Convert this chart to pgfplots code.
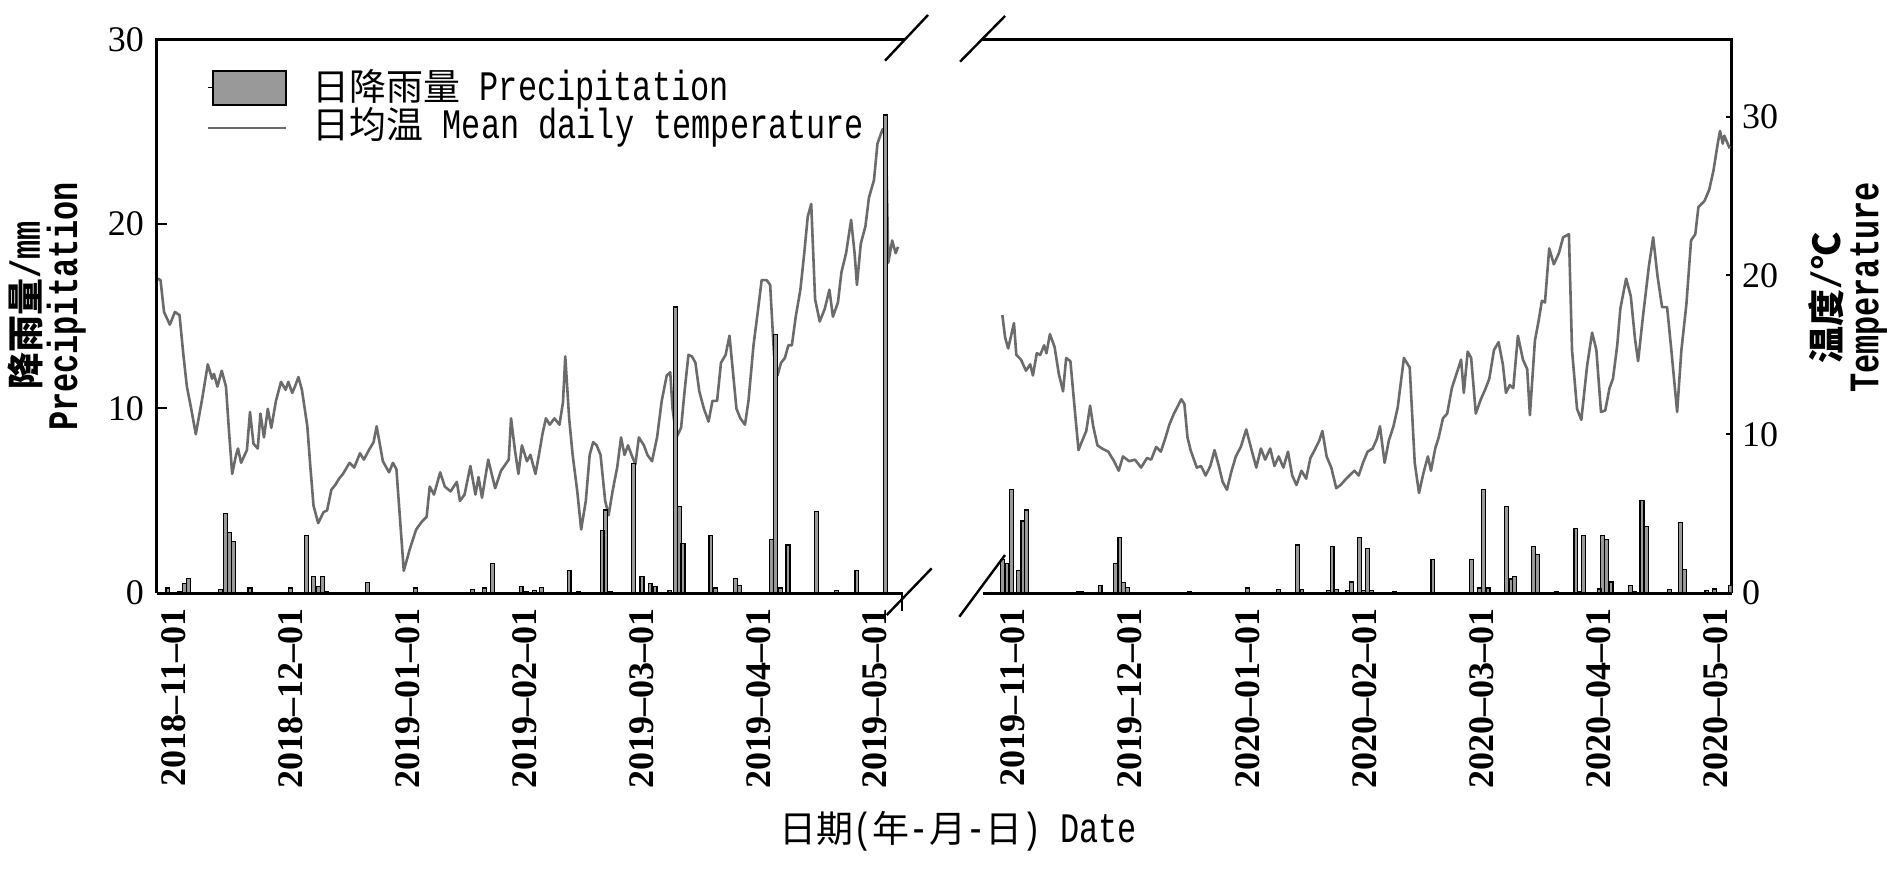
\documentclass[border=0pt]{standalone}
\usepackage{pgfplots}
\usepackage{pgfplotstable}
\pgfplotsset{compat=1.18}
\usepackage{fontspec}
\setmainfont{Liberation Serif}
\newfontfamily\cjk{Noto Sans CJK SC}
\newfontfamily\mono{Liberation Mono}[FakeStretch=0.76]
\newcommand\Cf{\cjk\fontsize{9.25pt}{11pt}\selectfont}
\newcommand\Mf{\mono\fontsize{10.5pt}{11pt}\selectfont}
\newcommand\C[1]{{\Cf #1}}
\newcommand\M[1]{{\Mf #1}}
\newcommand\CB[1]{{\Cf\bfseries #1}}
\newcommand\MB[1]{{\Mf\bfseries #1}}
\newcommand\tickfont{\fontsize{9pt}{10pt}\selectfont}
\newcommand\datefont{\fontsize{9pt}{10pt}\selectfont\bfseries}

% ---------- 2018-2019 season (day 0 = 2018-11-01) ----------
\pgfplotstableread{
x y
-1.6 0.27
1.5 0.1
2.7 0.5
3.7 0.8
12.0 0.2
13.2 4.3
14.3 3.3
15.3 2.8
19.6 0.27
30.0 0.27
34.2 3.1
36.0 0.9
37.3 0.36
38.3 0.9
39.3 0.1
49.9 0.58
62.3 0.27
77.0 0.18
80.2 0.27
82.2 1.6
89.6 0.36
90.9 0.1
93.0 0.13
94.8 0.32
102.0 1.2
104.3 0.1
110.5 3.4
111.4 4.5
112.6 0.1
118.7 7.0
120.8 0.9
122.9 0.5
124.2 0.36
128.0 0.12
129.5 15.5
130.5 4.7
131.4 2.7
138.6 3.1
139.8 0.27
144.9 0.8
146.0 0.4
154.2 2.9
155.3 14.0
156.5 0.27
158.5 2.6
165.8 4.4
171.0 0.12
176.3 1.2
183.7 25.9
}\precipA

\pgfplotstableread{
x y
-4.2 19.8
-3.5 19.7
-2.6 17.7
-1.1 16.9
0.2 17.7
1.4 17.5
2.4 15.0
3.3 13.0
4.5 11.5
5.6 10.0
7.3 12.3
8.7 14.4
9.8 13.5
10.3 13.8
11.2 13.0
12.3 14.0
13.4 13.0
14.2 10.1
15.0 7.5
16.0 8.7
16.5 9.1
17.3 8.2
18.8 9.0
19.6 11.4
20.5 9.4
21.6 9.1
22.3 11.3
23.2 9.8
24.2 11.6
25.1 10.4
26.3 12.1
27.6 13.3
28.8 12.8
29.5 13.3
30.5 12.6
31.2 13.0
32.1 13.6
33.0 12.8
34.4 10.5
35.2 7.9
36.0 5.5
37.2 4.4
38.6 5.1
39.5 5.2
40.6 6.5
41.6 6.8
42.6 7.2
43.6 7.5
45.3 8.2
46.5 7.9
48.0 8.8
49.0 8.4
50.3 9.0
51.5 9.5
52.3 10.5
53.9 8.3
55.5 7.6
56.5 8.2
57.4 7.8
59.3 1.4
60.9 2.8
62.5 4.0
64.0 4.5
65.2 4.8
66.0 6.7
67.1 6.2
68.7 7.6
69.9 6.7
71.4 6.4
73.0 7.0
73.8 5.8
75.0 6.2
76.5 8.0
77.8 6.2
78.6 7.3
79.5 6.0
81.1 8.4
82.9 6.6
84.4 7.7
86.4 8.4
87.0 11.0
88.0 9.0
88.9 7.5
89.8 9.3
91.1 8.3
92.0 8.7
93.3 7.5
94.2 8.7
95.1 10.0
96.0 11.0
97.0 10.6
98.2 11.0
99.5 10.6
100.4 12.0
101.0 14.9
102.0 11.0
102.9 8.7
104.1 6.4
105.1 4.0
106.3 5.8
107.3 8.7
108.2 9.5
109.1 9.3
110.1 8.7
111.3 5.8
112.2 4.9
113.2 6.4
114.4 7.9
115.4 9.8
116.3 8.7
117.2 9.3
118.1 8.7
119.1 8.1
120.0 9.8
121.3 9.3
122.2 8.7
123.4 8.3
124.7 9.8
125.9 12.1
127.2 13.7
128.1 13.9
128.7 11.6
129.7 9.8
130.9 10.4
131.8 12.7
132.8 15.0
133.7 14.9
134.6 14.5
135.6 12.7
136.8 11.6
138.0 10.8
139.0 12.1
140.2 12.1
141.2 14.5
142.4 15.0
143.4 16.2
144.3 13.9
145.2 11.6
146.2 11.0
147.4 10.6
148.3 12.1
149.6 15.6
150.8 17.9
151.7 19.7
153.0 19.7
153.9 19.4
154.9 15.0
155.8 13.7
156.7 14.5
157.7 14.8
158.6 15.6
159.5 15.6
160.5 17.4
161.7 19.1
162.7 21.4
163.6 23.7
164.5 24.5
165.5 18.5
166.7 17.1
168.0 17.9
169.2 19.1
170.1 17.4
171.4 18.3
172.3 20.2
173.5 21.4
174.8 23.5
175.7 21.4
176.3 19.4
177.3 22.0
178.5 23.1
179.4 24.9
180.7 26.0
181.6 28.3
182.9 29.2
183.8 28.7
184.4 20.8
185.4 22.2
186.3 21.4
186.9 21.8
}\tempA

% ---------- 2019-2020 season (day 0 = 2019-11-01) ----------
\pgfplotstableread{
x y
-2.6 1.8
-1.5 1.6
-0.4 5.6
1.5 1.2
2.6 3.9
3.6 4.5
17.1 0.1
17.7 0.1
22.6 0.4
26.6 1.6
27.7 3.0
28.7 0.58
29.6 0.32
45.6 0.1
60.8 0.27
68.7 0.18
73.7 2.6
74.8 0.18
81.7 0.13
82.6 2.5
83.7 0.18
86.7 0.15
87.7 0.6
89.7 3.0
90.8 0.15
91.8 2.4
92.8 0.15
98.7 0.1
108.7 1.8
118.7 1.8
120.8 0.27
121.8 5.6
123.0 0.27
127.8 4.7
128.9 0.76
129.9 0.9
134.7 2.5
135.8 2.1
140.7 0.1
145.7 3.5
146.7 0.1
147.6 3.1
151.7 0.22
152.6 3.1
153.7 2.9
154.8 0.6
159.9 0.4
160.9 0.1
162.8 5.0
163.9 3.6
169.9 0.18
172.7 3.8
173.8 1.26
179.6 0.13
181.6 0.22
185.7 0.4
}\precipB

\pgfplotstableread{
x y
-2.7 17.5
-2.0 16.1
-1.2 15.4
0.3 17.0
0.9 15.0
2.1 14.7
3.4 14.0
4.5 14.4
5.2 13.7
6.2 15.1
7.1 15.0
8.1 15.6
8.7 15.1
9.6 16.3
10.8 15.5
11.9 13.8
13.0 12.7
13.8 14.8
14.9 14.6
16.2 11.1
17.0 9.0
17.8 9.5
19.0 10.2
20.0 11.8
20.8 10.5
21.9 9.3
23.1 9.1
24.7 8.9
26.2 8.3
27.4 7.7
28.5 8.6
30.1 8.3
31.6 8.4
33.2 7.9
34.7 8.5
35.8 8.4
37.1 9.2
38.3 8.9
39.4 9.7
40.5 10.6
41.7 11.3
43.6 12.2
44.4 11.9
45.2 9.8
46.0 9.0
47.6 7.9
48.7 8.0
49.9 7.4
51.1 8.0
52.2 9.0
53.3 8.0
54.3 7.0
55.4 6.5
56.5 7.6
57.7 8.6
59.0 9.2
60.4 10.3
61.9 8.9
63.0 7.9
64.2 9.1
65.3 8.4
66.6 9.1
67.7 8.0
68.8 8.6
70.0 7.9
71.2 8.9
72.3 7.4
73.4 6.8
74.7 7.7
75.9 7.2
77.0 8.5
78.1 9.0
79.3 9.6
80.1 10.2
81.2 8.6
82.4 7.9
83.7 6.6
84.8 6.8
85.9 7.1
87.1 7.4
88.4 7.7
89.5 7.4
90.6 8.2
91.8 8.9
93.1 9.1
94.2 9.7
95.0 10.5
96.2 8.2
97.3 9.6
98.5 10.5
99.6 11.7
101.2 14.8
102.7 14.2
104.0 8.2
105.1 6.3
106.3 7.6
107.4 8.6
108.2 7.7
109.3 9.1
110.2 9.8
111.3 11.0
112.4 11.3
113.6 12.9
114.8 13.8
116.0 14.7
116.7 12.6
117.7 15.2
118.6 14.8
119.8 11.3
121.1 12.2
122.2 12.8
123.3 13.5
124.5 15.3
125.7 15.8
126.8 14.4
127.6 12.6
128.6 13.1
129.5 12.9
130.7 16.2
132.0 14.7
133.1 14.1
133.8 11.2
135.1 15.9
136.1 17.2
136.9 18.4
137.7 18.3
138.8 21.7
140.0 20.7
141.3 21.4
142.4 22.4
143.9 22.6
144.7 15.3
146.0 11.6
147.1 10.9
148.6 14.3
149.9 16.4
151.0 15.3
152.2 11.4
153.3 11.5
154.4 12.9
155.3 13.5
156.4 15.6
157.2 17.9
158.7 19.8
159.9 18.7
161.0 16.0
161.8 14.6
163.0 17.3
164.6 20.6
165.7 22.4
166.8 20.0
168.0 18.0
169.3 18.0
170.4 15.3
171.9 11.4
173.0 15.3
174.3 18.2
175.5 22.2
176.6 22.6
177.4 24.3
179.0 24.7
180.2 25.4
181.3 26.6
182.4 28.3
183.0 29.1
183.7 28.3
184.1 28.8
185.5 28.0
}\tempB

\begin{document}
\begin{tikzpicture}
\useasboundingbox (0,0) rectangle (472.5pt,217.5pt);
\pgfplotsset{
  panel/.style={scale only axis, anchor=south west, height=138.425pt, ymin=0, axis line style={line width=0.75pt, -}},
  tline/.style={black!58, line width=0.65pt, line join=round, mark=none},
  bars/.style={ybar, bar width=1, bar shift=0pt, draw=black, fill=black!40, line width=0.3pt, mark=none},
  datelabels/.style={xtick style={draw=none}, xticklabel style={font=\datefont, yshift=-3.75pt, rotate=90, anchor=east, inner sep=0pt}},
}
% ===== left panel: temperature =====
\begin{axis}[panel, at={(39.175pt,69.25pt)}, width=186.575pt, xmin=-4.49, xmax=188.2, ymax=34.87, hide axis]
\addplot[tline] table[x=x,y=y] {\tempA};
\end{axis}
% ===== left panel: precipitation =====
\begin{axis}[panel, at={(39.175pt,69.25pt)}, width=186.575pt, xmin=-4.49, xmax=188.2, ymax=30,
  axis x line*=bottom, axis y line*=left, tick align=inside,
  datelabels,
  xtick={0,30.1667,60.3333,90.5,120.6667,150.8333,181},
  xticklabels={2018–11–01,2018–12–01,2019–01–01,2019–02–01,2019–03–01,2019–04–01,2019–05–01},
  ytick={0,10,20,30}, yticklabels={0,10,20,30},
  ytick style={black, line width=0.5pt}, major tick length=2.5pt,
  yticklabel style={font=\tickfont, inner sep=0pt, xshift=-3pt},
  legend style={at={(0.0674,0.9464)}, anchor=north west, draw=none, fill=none, inner sep=0pt, outer sep=0pt, row sep=0.4pt, column sep=6.25pt, nodes={inner sep=0pt}},
  legend cell align=left]
\addplot[bars, legend image code/.code={\path (0pt,0pt) -- (19.5pt,0pt); \draw[black, fill=black!40, line width=0.5pt] (1.25pt,-4.25pt) rectangle (19.5pt,4.25pt);}] table[x=x,y=y] {\precipA};
\addlegendentry{\C{日降雨量}\M{~Precipitation}}
\addlegendimage{legend image code/.code={\draw[black!58, line width=0.65pt] (0pt,-0.4pt) -- (19.5pt,-0.4pt);}}
\addlegendentry{\C{日均温}\M{~Mean daily temperature}}
\end{axis}
% ===== right panel: precipitation axis (x axis and labels) =====
\begin{axis}[panel, at={(245.75pt,69.25pt)}, width=187.15pt, xmin=-7.71, xmax=186.0, ymax=30,
  axis x line*=bottom, hide y axis,
  datelabels,
  xtick={0,30.3333,60.6667,91,121.3333,151.6667,182},
  xticklabels={2019–11–01,2019–12–01,2020–01–01,2020–02–01,2020–03–01,2020–04–01,2020–05–01}]
\addplot[tline, draw=none] table[x=x,y=y] {\precipB};
\end{axis}
% ===== right panel: temperature =====
\begin{axis}[panel, at={(245.75pt,69.25pt)}, width=187.15pt, xmin=-7.71, xmax=186.0, ymax=34.87,
  hide x axis, axis y line*=right, tick align=inside,
  ytick={0,10,20,30}, yticklabels={0,10,20,30},
  ytick style={black, line width=0.5pt}, major tick length=1.5pt,
  yticklabel style={font=\tickfont, inner sep=0pt, xshift=2.4pt}]
\addplot[tline] table[x=x,y=y] {\tempB};
\end{axis}
% bars of right panel drawn on top of the line
\begin{axis}[panel, at={(245.75pt,69.25pt)}, width=187.15pt, xmin=-7.71, xmax=186.0, ymax=30, hide axis]
\addplot[bars] table[x=x,y=y] {\precipB};
\end{axis}
% ===== frame lines and axis breaks =====
\draw[line width=0.75pt, line cap=rect] (39.175pt,207.675pt) -- (225.75pt,207.675pt);
\draw[line width=0.75pt, line cap=rect] (245.75pt,207.675pt) -- (432.9pt,207.675pt);
\draw[line width=0.6pt] (221.25pt,202.325pt) -- (232pt,213.75pt);
\draw[line width=0.6pt] (221.675pt,63.75pt) -- (232.925pt,75.425pt);
\draw[line width=0.6pt] (225.425pt,69.25pt) -- (225.425pt,64.825pt);
\draw[line width=0.6pt] (240pt,202.075pt) -- (251.25pt,213.5pt);
\draw[line width=0.6pt] (239.825pt,63.325pt) -- (251.25pt,78.75pt);
% ===== axis titles =====
\node[rotate=90, anchor=base, inner sep=0pt] at (10pt,141.2pt) {\CB{降雨量}\MB{/mm}};
\node[rotate=90, anchor=base, inner sep=0pt] at (19.25pt,140.9pt) {\MB{Precipitation}};
\node[rotate=90, anchor=base, inner sep=0pt] at (460.2pt,143pt) {\CB{温度}\MB{/}\CB{℃}};
\node[rotate=90, anchor=base, inner sep=0pt] at (469.6pt,145.6pt) {\MB{Temperature}};
\node[anchor=base, inner sep=0pt] at (239.6pt,7pt) {\C{日期}\M{(}\C{年}\M{-}\C{月}\M{-}\C{日}\M{)~Date}};
\end{tikzpicture}
\end{document}
